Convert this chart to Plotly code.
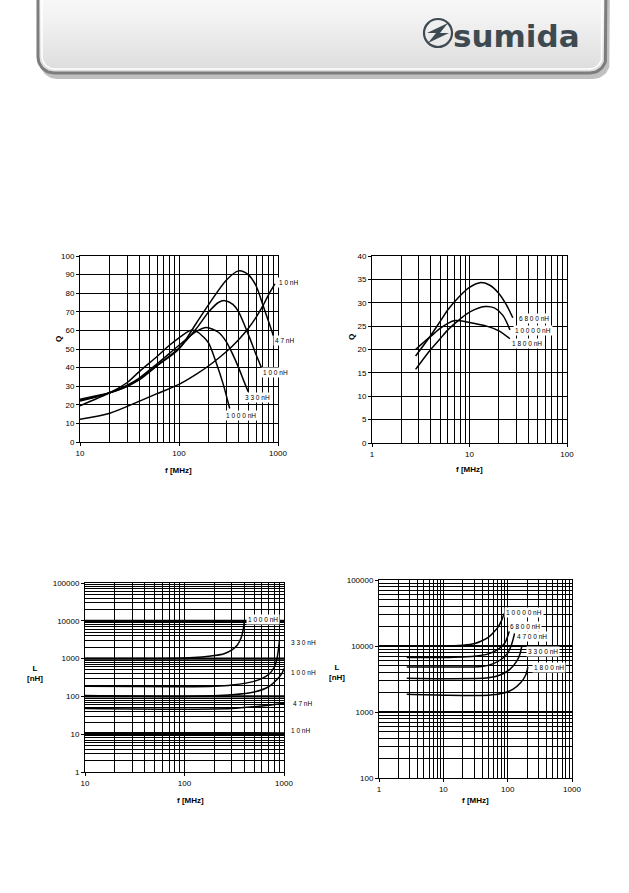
import numpy as np
import plotly.graph_objects as go

W, H = 629, 893

# ---------------- data ----------------
# Chart 1: Q vs f (10 - 1000 MHz)
q1_10_f = [10, 20, 40, 60, 100, 150, 200, 300, 400, 500, 600, 700, 800, 930]
q1_10_q = [12.2, 15.5, 22, 26, 31, 36.5, 41, 48.5, 55, 61, 67, 73, 79, 85]
q1_47_f = [10, 15, 20, 30, 40, 60, 100, 150, 200, 300, 400, 500, 600, 700, 800, 900]
q1_47_q = [22.5, 24.5, 26.5, 30, 34, 41, 50, 64, 74, 87, 92, 90, 84, 74, 65, 57]
q1_100_f = [10, 15, 20, 30, 40, 60, 100, 150, 200, 250, 290, 350, 400, 500, 600, 680]
q1_100_q = [23, 25, 26.5, 30, 33.5, 41, 50.5, 61, 70, 75, 76, 74, 70, 58, 47, 40]
q1_330_f = [10, 15, 20, 30, 40, 60, 100, 150, 190, 250, 300, 350, 400, 450, 500]
q1_330_q = [22, 24.5, 26.5, 30.5, 34.5, 42, 52, 59.5, 61.5, 59, 54, 47, 40, 33, 27]
q1_1000_f = [10, 15, 20, 30, 40, 60, 80, 100, 130, 150, 180, 200, 240, 280, 325]
q1_1000_q = [19.5, 23.5, 26.5, 32, 38, 46, 52, 56, 60, 59.5, 56, 53, 42, 31, 18]

# Chart 2: Q vs f (1 - 100 MHz)
q2_6800_f = [2.8, 4, 5, 6, 8, 10, 12.8, 16, 20, 24, 27.8]
q2_6800_q = [18.6, 23, 26, 28.5, 31.5, 33.3, 34.3, 33.8, 32, 29.5, 26.8]
q2_10000_f = [2.8, 4, 5, 6, 8, 10, 14.4, 18, 22, 26]
q2_10000_q = [15.75, 20, 22.3, 24.2, 26.5, 28, 29.2, 28.9, 27.3, 24.2]
q2_1800_f = [2.8, 3.5, 4, 5, 6, 7.1, 10, 15, 20, 26]
q2_1800_q = [20, 21.8, 22.8, 24.5, 25.6, 26.2, 25.8, 25, 24, 22.3]

# Chart 3: L vs f (10 - 1000 MHz)
l3_1000_f = [10, 50, 100, 150, 200, 250, 300, 340, 370, 390, 400]
l3_1000_l = [1000, 1000, 1030, 1100, 1200, 1350, 1700, 2300, 3500, 6000, 10000]
l3_330_f = [10, 100, 200, 300, 500, 700, 800, 850, 880, 900]
l3_330_l = [185, 180, 185, 200, 250, 380, 600, 1000, 1800, 3000]
l3_100_f = [10, 100, 300, 500, 700, 850, 950, 1000]
l3_100_l = [105, 100, 110, 130, 180, 280, 400, 550]
l3_47_f = [10, 100, 300, 500, 700, 1000]
l3_47_l = [48, 46, 48, 53, 58, 66]
l3_10_f = [10, 100, 1000]
l3_10_l = [11, 11, 10.8]

# Chart 4: L vs f (1 - 1000 MHz)
l4_10000_f = [2.7, 10, 20, 30, 40, 50, 60, 70, 80, 88]
l4_10000_l = [10000, 10000, 10300, 10800, 12000, 13500, 16000, 19000, 24000, 31000]
l4_6800_f = [2.7, 10, 30, 50, 70, 90, 100, 112]
l4_6800_l = [6700, 6700, 7000, 7600, 8800, 11000, 14000, 20000]
l4_4700_f = [2.7, 10, 40, 60, 80, 100, 115, 128]
l4_4700_l = [4800, 4800, 4900, 5400, 6300, 7800, 10500, 15500]
l4_3300_f = [2.7, 10, 50, 80, 110, 140, 155, 166]
l4_3300_l = [3250, 3200, 3300, 3700, 4500, 6000, 7500, 10000]
l4_1800_f = [2.7, 10, 50, 80, 120, 160, 190, 206]
l4_1800_l = [1850, 1800, 1800, 1900, 2200, 2800, 3600, 4800]

# tick labels
ticks_1_1000 = [1, 10, 100, 1000]
ticks_1_100000 = [1, 10, 100, 1000, 10000, 100000]

# curve labels
labels1 = ["1 0 nH", "4 7 nH", "1 0 0 nH", "3 3 0 nH", "1 0 0 0 nH"]
labels2 = ["6 8 0 0 nH", "1 0 0 0 0 nH", "1 8 0 0 nH"]
labels3 = ["1 0 0 0 nH", "3 3 0 nH", "1 0 0 nH", "4 7 nH", "1 0 nH"]
labels4 = ["1 0 0 0 0 nH", "6 8 0 0 nH", "4 7 0 0 nH", "3 3 0 0 nH", "1 8 0 0 nH"]

# ---------------- helpers ----------------
def px(x):
    return x / W

def py(y):
    return 1 - y / H

fig = go.Figure()
LINE = dict(color="black", width=1.5, shape="spline", smoothing=0.8)

def add(fx, fy, xa, ya):
    fig.add_trace(go.Scatter(x=fx, y=fy, mode="lines", line=LINE, xaxis=xa, yaxis=ya,
                             hoverinfo="skip", showlegend=False))

for f, q in [(q1_10_f, q1_10_q), (q1_47_f, q1_47_q), (q1_100_f, q1_100_q),
             (q1_330_f, q1_330_q), (q1_1000_f, q1_1000_q)]:
    add(f, q, "x", "y")
for f, q in [(q2_6800_f, q2_6800_q), (q2_10000_f, q2_10000_q), (q2_1800_f, q2_1800_q)]:
    add(f, q, "x2", "y2")
for f, l in [(l3_1000_f, l3_1000_l), (l3_330_f, l3_330_l), (l3_100_f, l3_100_l),
             (l3_47_f, l3_47_l), (l3_10_f, l3_10_l)]:
    add(f, l, "x3", "y3")
for f, l in [(l4_10000_f, l4_10000_l), (l4_6800_f, l4_6800_l), (l4_4700_f, l4_4700_l),
             (l4_3300_f, l4_3300_l), (l4_1800_f, l4_1800_l)]:
    add(f, l, "x4", "y4")

TICKFONT = dict(family="Liberation Sans, Arial", size=8, color="black")
GRID = dict(showgrid=True, gridcolor="black", gridwidth=1, showline=True, linecolor="black",
            linewidth=1, mirror=True, zeroline=False, tickfont=TICKFONT, ticks="outside",
            ticklen=3, tickcolor="black", automargin=False)
MINOR = dict(dtick="D1", showgrid=True, gridcolor="black", gridwidth=1, ticks="")

def logaxis(domain, rng, anchor, tv):
    return dict(type="log", domain=domain, range=rng, anchor=anchor,
                tickmode="array", tickvals=tv, ticktext=[str(v) for v in tv],
                minor=MINOR, **GRID)

layout = dict(
    template="none",
    width=W, height=H, margin=dict(l=0, r=0, t=0, b=0, pad=0), autosize=False,
    paper_bgcolor="white", plot_bgcolor="rgba(0,0,0,0)", showlegend=False,
    xaxis=logaxis([px(80), px(278)], [1, 3], "y", ticks_1_1000),
    yaxis=dict(domain=[py(442), py(256)], range=[0, 100], dtick=10, anchor="x", **GRID),
    xaxis2=logaxis([px(372), px(567)], [0, 2], "y2", ticks_1_1000),
    yaxis2=dict(domain=[py(443), py(256)], range=[0, 40], dtick=5, anchor="x2", **GRID),
    xaxis3=logaxis([px(85), px(284)], [1, 3], "y3", ticks_1_1000),
    yaxis3=logaxis([py(772), py(583)], [0, 5], "x3", ticks_1_100000),
    xaxis4=logaxis([px(379), px(572)], [0, 3], "y4", ticks_1_1000),
    yaxis4=logaxis([py(778), py(580)], [2, 5], "x4", ticks_1_100000),
    xaxis5=dict(domain=[0, 1], range=[0, W], visible=False, anchor="y5", fixedrange=True,
                automargin=False),
    yaxis5=dict(domain=[0, 1], range=[H, 0], visible=False, anchor="x5", fixedrange=True,
                automargin=False),
)
fig.update_layout(**layout)

# thicker decade gridlines on L charts
shapes = []
for ya, xa, decs in [("y3", "x3", [10, 100, 1000, 10000]), ("y4", "x4", [1000, 10000])]:
    for d in decs:
        shapes.append(dict(type="line", xref=xa + " domain", yref=ya, x0=0, x1=1, y0=d, y1=d,
                           line=dict(color="black", width=2.2), layer="below"))

# ---------------- header ----------------
def rrect(x0, y0, x1, y1, r, n=12):
    pts = []
    for cx, cy, a0 in [(x1 - r, y1 - r, 0), (x0 + r, y1 - r, 90)]:
        for t in np.linspace(a0, a0 + 90, n):
            pts.append((cx + r * np.cos(np.radians(t)), cy + r * np.sin(np.radians(t))))
    pts = [(x1, y0)] + pts + [(x0, y0), (x1, y0)]
    return [p[0] for p in pts], [p[1] for p in pts]

# shadow
sx, sy = rrect(40, -30, 610, 79, 17)
fig.add_trace(go.Scatter(x=sx, y=sy, xaxis="x5", yaxis="y5", mode="lines", fill="toself",
                         fillcolor="rgba(140,140,140,0.55)", line=dict(width=0),
                         hoverinfo="skip", showlegend=False))
hx, hy = rrect(38, -30, 606, 73, 16)
fig.add_trace(go.Scatter(x=hx, y=hy, xaxis="x5", yaxis="y5", mode="lines", fill="toself",
                         fillgradient=dict(type="vertical",
                                           colorscale=[[0, "#dcdcdc"], [0.55, "#f3f3f3"], [1, "#ffffff"]]),
                         line=dict(color="#7d7d7d", width=3),
                         hoverinfo="skip", showlegend=False))
ix, iy = rrect(42, -30, 602, 69, 13)
fig.add_trace(go.Scatter(x=ix, y=iy, xaxis="x5", yaxis="y5", mode="lines",
                         line=dict(color="white", width=1.5),
                         hoverinfo="skip", showlegend=False))

LOGO = "#3e4a52"
shapes.append(dict(type="circle", xref="x5", yref="y5", x0=424, x1=452, y0=19, y1=47,
                   line=dict(color=LOGO, width=2.2)))
shapes.append(dict(type="path", xref="x5", yref="y5",
                   path="M 427,33 L 448,23 L 440,33 Z", fillcolor=LOGO, line=dict(width=0)))
shapes.append(dict(type="path", xref="x5", yref="y5",
                   path="M 449,33 L 428,43 L 436,33 Z", fillcolor=LOGO, line=dict(width=0)))

ann = []
ann.append(dict(x=px(516), y=py(36), xref="paper", yref="paper", text="<b>sumida</b>",
                showarrow=False, font=dict(family="DejaVu Sans", size=31, color=LOGO),
                xanchor="center", yanchor="middle"))

# axis titles
TF = dict(family="Liberation Sans, Arial", size=8, color="black")
def title(x, y, t, angle=0):
    ann.append(dict(x=px(x), y=py(y), xref="paper", yref="paper", text="<b>" + t + "</b>",
                    showarrow=False, font=TF, textangle=angle, xanchor="center", yanchor="middle"))

title(178, 470, "f [MHz]")
title(469, 469, "f [MHz]")
title(190, 800, "f [MHz]")
title(475, 800, "f [MHz]")
title(58, 339, "Q", -90)
title(351, 337, "Q", -90)
title(35, 673, "L<br>[nH]")
title(337, 672, "L<br>[nH]")

# curve labels
LF = dict(family="Liberation Sans, Arial", size=6.5, color="black")
def lab(x, y, t):
    ann.append(dict(x=px(x), y=py(y), xref="paper", yref="paper", text=t, showarrow=False,
                    font=LF, bgcolor="white", borderpad=1, xanchor="center", yanchor="middle"))

for t, (x, y) in zip(labels1, [(288, 282), (284, 340), (275, 373), (257, 397), (241, 415)]):
    lab(x, y, t)
for t, (x, y) in zip(labels2, [(534, 318), (533, 330), (527, 343)]):
    lab(x, y, t)
for t, (x, y) in zip(labels3, [(263, 619), (303, 642), (303, 672), (302, 703), (300, 730)]):
    lab(x, y, t)
for t, (x, y) in zip(labels4, [(524, 612), (525, 626), (532, 636), (543, 651), (549, 667)]):
    lab(x, y, t)

fig.update_layout(shapes=shapes, annotations=ann)
fig.write_html("out.html", config={"displayModeBar": False, "staticPlot": True},
               post_script="document.body.style.margin='0';document.body.style.overflow='hidden';")
